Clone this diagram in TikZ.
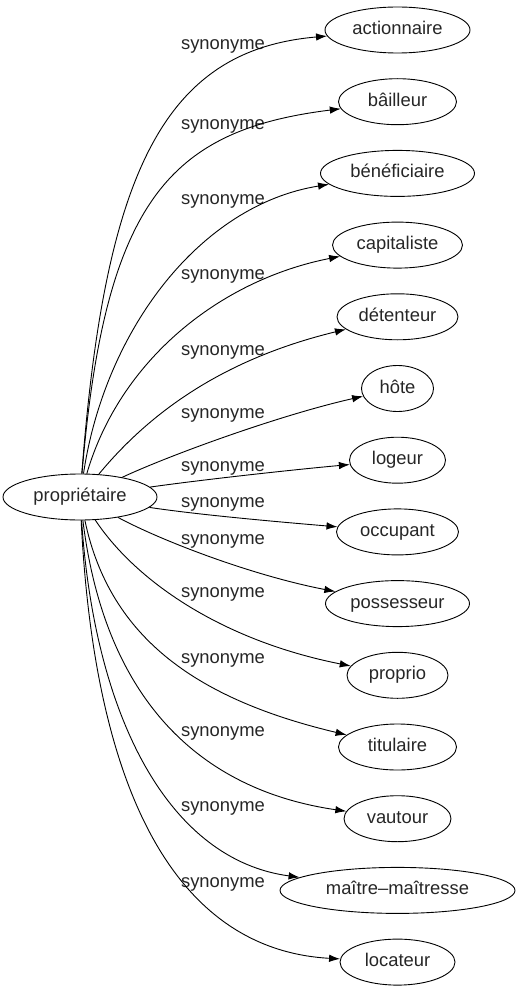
\documentclass[tikz,border=0pt]{standalone}
\usepackage{fontspec}
\setmainfont{Liberation Sans}
\usetikzlibrary{shapes.geometric,arrows.meta}
\begin{document}
\begin{tikzpicture}[x=1pt,y=-1pt,
  every node/.style={font=\fontsize{18.4}{20}\selectfont, text=black!85, text height=13pt, text depth=4pt},
  ell/.style={draw=black, ellipse, minimum height=46pt, inner sep=0pt, line width=0.9pt},
  lbl/.style={anchor=center, inner sep=0pt},
  syn/.style={draw=black, line width=0.9pt, -{Latex[length=11pt,width=7.5pt]}}]
\useasboundingbox (0,0) rectangle (519,995);
% nodes
\node[ell, minimum width=154pt] (p) at (80,497) {propriétaire};
\node[ell, minimum width=145pt] (a1) at (397.5,30) {actionnaire};
\node[ell, minimum width=118pt] (a2) at (397.5,101.7) {bâilleur};
\node[ell, minimum width=154pt] (a3) at (397.5,173.4) {bénéficiaire};
\node[ell, minimum width=130pt] (a4) at (397.5,245.1) {capitaliste};
\node[ell, minimum width=121pt] (a5) at (397.5,316.8) {détenteur};
\node[ell, minimum width=72pt] (a6) at (397.5,388.5) {hôte};
\node[ell, minimum width=96pt] (a7) at (397.5,460.2) {logeur};
\node[ell, minimum width=122pt] (a8) at (397.5,531.9) {occupant};
\node[ell, minimum width=144pt] (a9) at (397.5,603.6) {possesseur};
\node[ell, minimum width=101pt] (a10) at (397.5,675.3) {proprio};
\node[ell, minimum width=118pt] (a11) at (397.5,747) {titulaire};
\node[ell, minimum width=107pt] (a12) at (397.5,818.7) {vautour};
\node[ell, minimum width=235pt] (a13) at (397.5,890.4) {maître–maîtresse};
\node[ell, minimum width=115pt] (a14) at (397.5,962.1) {locateur};
% labels
\node[lbl] (l1) at (223,45) {synonyme};
\node[lbl] (l2) at (223,125) {synonyme};
\node[lbl] (l3) at (223,200) {synonyme};
\node[lbl] (l4) at (223,275) {synonyme};
\node[lbl] (l5) at (223,351) {synonyme};
\node[lbl] (l6) at (223,414) {synonyme};
\node[lbl] (l7) at (223,467) {synonyme};
\node[lbl] (l8) at (223,503) {synonyme};
\node[lbl] (l9) at (223,540) {synonyme};
\node[lbl] (l10) at (223,593) {synonyme};
\node[lbl] (l11) at (223,659) {synonyme};
\node[lbl] (l12) at (223,732) {synonyme};
\node[lbl] (l13) at (223,807) {synonyme};
\node[lbl] (l14) at (223,883) {synonyme};
% edges
\draw[syn] (p) .. controls (105,170) and (165,50) .. (a1);
\draw[syn] (p) .. controls (105,200) and (170,130) .. (a2);
\draw[syn] (p) .. controls (105,330) and (200,205) .. (a3);
\draw[syn] (p) .. controls (120,360) and (220,280) .. (a4);
\draw[syn] (p) .. controls (160,400) and (240,355) .. (a5);
\draw[syn] (p) .. controls (170,455) and (280,415) .. (a6);
\draw[syn] (p) .. controls (200,480) and (290,470) .. (a7);
\draw[syn] (p) .. controls (200,515) and (280,522) .. (a8);
\draw[syn] (p) .. controls (160,540) and (250,575) .. (a9);
\draw[syn] (p) .. controls (135,580) and (220,640) .. (a10);
\draw[syn] (p) .. controls (110,640) and (200,700) .. (a11);
\draw[syn] (p) .. controls (105,700) and (200,790) .. (a12);
\draw[syn] (p) .. controls (95,720) and (170,860) .. (a13);
\draw[syn] (p) .. controls (95,800) and (180,950) .. (a14);
\end{tikzpicture}
\end{document}
